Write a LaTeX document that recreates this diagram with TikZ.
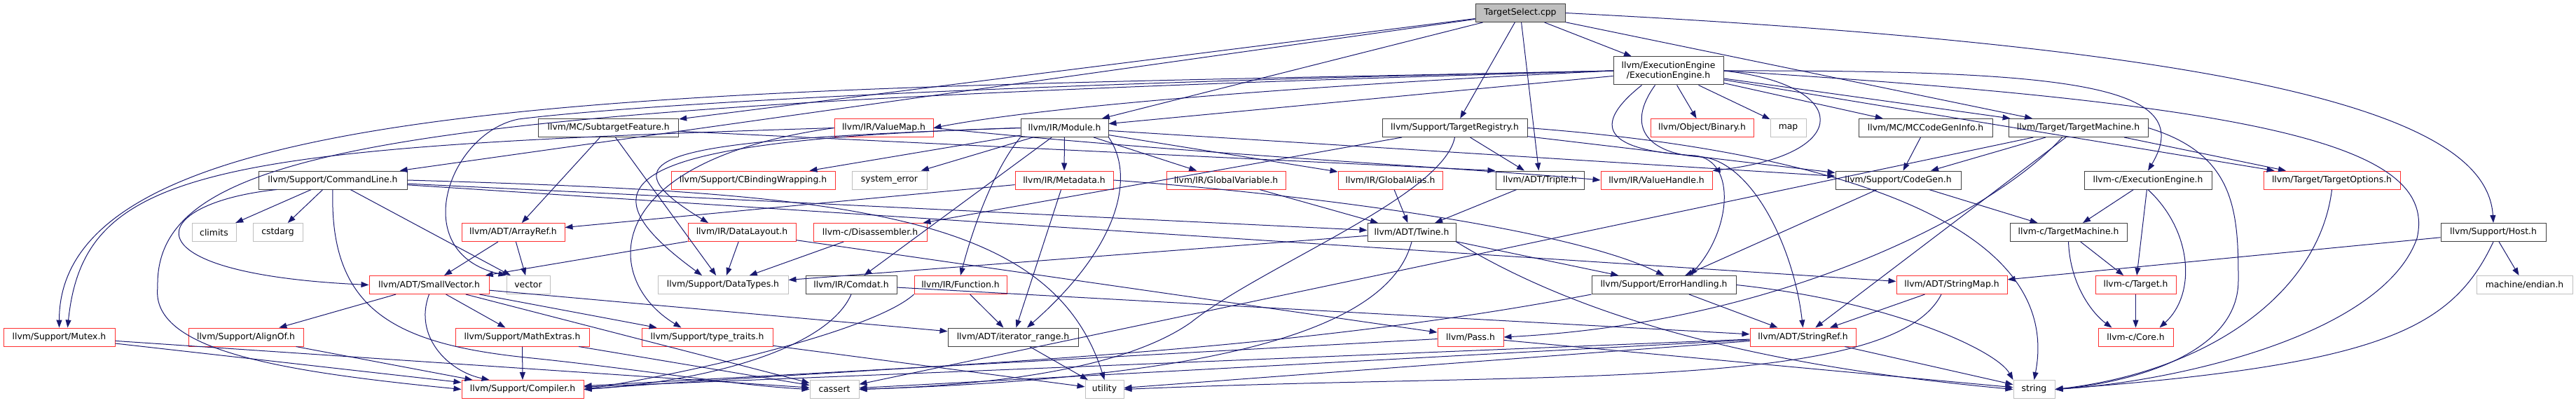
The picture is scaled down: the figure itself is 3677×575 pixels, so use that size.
\documentclass[tikz,border=0pt]{standalone}
\usepackage{fontspec}
\setmainfont{DejaVu Sans}
\usepackage{xcolor}
\usepackage{tikz}
\usetikzlibrary{arrows.meta}
\definecolor{depblue}{HTML}{191970}
\definecolor{truncred}{HTML}{FF3030}
\definecolor{sysgray}{HTML}{BFBFBF}
\definecolor{hdrgray}{HTML}{404040}

\begin{document}
\begin{tikzpicture}[x=1pt,y=-1pt,>={Triangle[length=11pt,width=8pt]}]
  \tikzstyle{hdr}=[draw=hdrgray,line width=1pt,fill=white,minimum height=26pt,inner sep=0pt,align=center,font=\fontsize{12.4}{14.5}\selectfont]
  \tikzstyle{trunc}=[hdr,draw=truncred]
  \tikzstyle{sys}=[hdr,draw=sysgray]
  \tikzstyle{dep}=[->,draw=depblue,line width=1pt]
  \useasboundingbox (0,0) rectangle (3677,575);
  \node[hdr,fill=sysgray,minimum width=128pt] (ts) at (2170,18.5) {TargetSelect.cpp};
  \node[hdr,minimum width=157pt,minimum height=40pt] (ee) at (2381.5,101) {llvm/ExecutionEngine\\/ExecutionEngine.h};
  \node[hdr,minimum width=200pt] (subtarget) at (868.7,182.5) {llvm/MC/SubtargetFeature.h};
  \node[trunc,minimum width=141pt] (valuemap) at (1261.5,182.5) {llvm/IR/ValueMap.h};
  \node[hdr,minimum width=125pt] (module) at (1519.5,182.5) {llvm/IR/Module.h};
  \node[hdr,minimum width=207pt] (treg) at (2076.5,182.5) {llvm/Support/TargetRegistry.h};
  \node[trunc,minimum width=147pt] (binary) at (2429.5,182.5) {llvm/Object/Binary.h};
  \node[sys,minimum width=51pt] (map) at (2552.5,182.5) {map};
  \node[hdr,minimum width=191pt] (mccgi) at (2748.5,182.5) {llvm/MC/MCCodeGenInfo.h};
  \node[hdr,minimum width=199pt] (tm) at (2966.5,182.5) {llvm/Target/TargetMachine.h};
  \node[hdr,minimum width=212pt] (cmdline) at (475,257) {llvm/Support/CommandLine.h};
  \node[trunc,minimum width=234pt] (cbind) at (1075,257) {llvm/Support/CBindingWrapping.h};
  \node[sys,minimum width=107pt] (syserr) at (1269.5,257) {system\_error};
  \node[trunc,minimum width=140pt] (metadata) at (1519,257) {llvm/IR/Metadata.h};
  \node[trunc,minimum width=170pt] (gvar) at (1750,257) {llvm/IR/GlobalVariable.h};
  \node[trunc,minimum width=149pt] (galias) at (1984.5,257) {llvm/IR/GlobalAlias.h};
  \node[hdr,minimum width=126pt] (triple) at (2198,257) {llvm/ADT/Triple.h};
  \node[trunc,minimum width=159pt] (valuehandle) at (2364.5,257) {llvm/IR/ValueHandle.h};
  \node[hdr,minimum width=179pt] (codegen) at (2709.5,257) {llvm/Support/CodeGen.h};
  \node[hdr,minimum width=182pt] (lee) at (3066,257) {llvm-c/ExecutionEngine.h};
  \node[trunc,minimum width=195pt] (topts) at (3328.5,257) {llvm/Target/TargetOptions.h};
  \node[sys,minimum width=63pt] (climits) at (305.5,331.5) {climits};
  \node[sys,minimum width=71pt] (cstdarg) at (396.5,331.5) {cstdarg};
  \node[trunc,minimum width=147pt] (arrayref) at (732.5,331.5) {llvm/ADT/ArrayRef.h};
  \node[trunc,minimum width=154pt] (datalayout) at (1059,331.5) {llvm/IR/DataLayout.h};
  \node[trunc,minimum width=162pt] (disasm) at (1242,331.5) {llvm-c/Disassembler.h};
  \node[hdr,minimum width=126pt] (twine) at (2015,331.5) {llvm/ADT/Twine.h};
  \node[hdr,minimum width=167pt] (ltm) at (2952.5,331.5) {llvm-c/TargetMachine.h};
  \node[hdr,minimum width=150pt] (host) at (3559,331.5) {llvm/Support/Host.h};
  \node[trunc,minimum width=171pt] (smallvec) at (612.5,406.5) {llvm/ADT/SmallVector.h};
  \node[sys,minimum width=62pt] (vector) at (754,406.5) {vector};
  \node[sys,minimum width=186pt] (datatypes) at (1032,406.5) {llvm/Support/DataTypes.h};
  \node[hdr,minimum width=130pt] (comdat) at (1215,406.5) {llvm/IR/Comdat.h};
  \node[trunc,minimum width=132pt] (function) at (1371,406.5) {llvm/IR/Function.h};
  \node[hdr,minimum width=206pt] (errh) at (2375,406.5) {llvm/Support/ErrorHandling.h};
  \node[trunc,minimum width=158pt] (stringmap) at (2786,406.5) {llvm/ADT/StringMap.h};
  \node[trunc,minimum width=115pt] (ltarget) at (3048.5,406.5) {llvm-c/Target.h};
  \node[sys,minimum width=137pt] (endian) at (3603.5,406.5) {machine/endian.h};
  \node[trunc,minimum width=159pt] (mutex) at (84.5,481) {llvm/Support/Mutex.h};
  \node[trunc,minimum width=164pt] (alignof) at (351,481) {llvm/Support/AlignOf.h};
  \node[trunc,minimum width=191pt] (mathext) at (745.5,481) {llvm/Support/MathExtras.h};
  \node[trunc,minimum width=187pt] (typetraits) at (1009.5,481) {llvm/Support/type\_traits.h};
  \node[hdr,minimum width=186pt] (iterrange) at (1446,481) {llvm/ADT/iterator\_range.h};
  \node[trunc,minimum width=94pt] (pass) at (2099,481) {llvm/Pass.h};
  \node[trunc,minimum width=151pt] (stringref) at (2573.5,481) {llvm/ADT/StringRef.h};
  \node[trunc,minimum width=107pt] (lcore) at (3048.5,481) {llvm-c/Core.h};
  \node[trunc,minimum width=174pt] (compiler) at (746,555.5) {llvm/Support/Compiler.h};
  \node[sys,minimum width=70pt] (cassert) at (1191,555.5) {cassert};
  \node[sys,minimum width=55pt] (utility) at (1576.5,555.5) {utility};
  \node[sys,minimum width=59pt] (string) at (2903.5,555.5) {string};
  \foreach \a/\b in {ts/ee,ts/tm,ts/treg,ts/triple,ts/module,ts/subtarget,ts/cmdline,%
    ee/module,ee/binary,ee/map,ee/mccgi,ee/tm,ee/topts,%
    subtarget/arrayref,subtarget/datatypes,%
    module/cbind,module/syserr,module/metadata,module/gvar,module/galias,module/comdat,module/codegen,%
    treg/disasm,treg/triple,treg/codegen,%
    tm/codegen,tm/topts,tm/stringref,tm/cassert,mccgi/codegen,%
    cmdline/climits,cmdline/cstdarg,cmdline/vector,cmdline/twine,cmdline/stringmap,%
    metadata/arrayref,metadata/iterrange,gvar/twine,galias/twine,triple/twine,%
    codegen/errh,codegen/ltm,lee/ltm,lee/ltarget,ltm/ltarget,ltarget/lcore,%
    arrayref/smallvec,arrayref/vector,datalayout/datatypes,datalayout/smallvec,datalayout/pass,%
    disasm/datatypes,twine/datatypes,twine/errh,host/stringmap,host/endian,%
    smallvec/alignof,smallvec/mathext,smallvec/typetraits,smallvec/cassert,smallvec/iterrange,%
    comdat/stringref,function/iterrange,errh/stringref,stringmap/stringref,%
    mutex/compiler,mutex/cassert,alignof/compiler,mathext/compiler,mathext/cassert,%
    typetraits/utility,iterrange/utility,pass/compiler,pass/string,%
    stringref/compiler,stringref/cassert,stringref/string,stringref/utility}
    \draw[dep] (\a) -- (\b);
  \draw[dep] (subtarget) -- (triple.north west);
  \draw[dep] (ts.east) .. controls (3250,70) and (3550,170) .. (host.north);
  \draw[dep] (ee.west) .. controls (1900,120) and (1500,150) .. (valuemap.east);
  \draw[dep] (ee.west) .. controls (1000,130) and (85,120) .. (mutex.north);
  \draw[dep] (ee.west) .. controls (600,150) and (220,200) .. (225,410) .. controls (215,500) and (400,530) .. (compiler.west);
  \draw[dep] (ee.west) .. controls (1400,120) and (900,150) .. (740,170) .. controls (640,190) and (580,360) .. (vector.north west);
  \draw[dep] (ee.east) .. controls (2950,100) and (3140,120) .. (lee.north);
  \draw[dep] (ee.east) .. controls (2640,120) and (2650,220) .. (valuehandle.north east);
  \draw[dep] ([xshift=-38pt]ee.south) .. controls (2270,180) and (2290,215) .. (2420,222) .. controls (2480,230) and (2470,330) .. ([xshift=37pt]errh.north);
  \draw[dep] ([xshift=-19pt]ee.south) .. controls (2320,180) and (2350,220) .. (2430,224) .. controls (2500,232) and (2560,350) .. (stringref.north);
  \draw[dep] (ee.east) .. controls (3250,150) and (3480,210) .. (3450,340) .. controls (3400,480) and (3100,545) .. (string.east);
  \draw[dep] (tm.east) .. controls (3190,220) and (3195,300) .. (3195,400) .. controls (3195,520) and (3000,550) .. (string.east);
  \draw[dep] (topts.south) .. controls (3310,420) and (3150,530) .. (string.east);
  \draw[dep] (host.south) .. controls (3500,470) and (3400,520) .. (string.east);
  \draw[dep] (treg.east) .. controls (2550,210) and (2950,300) .. (string.north);
  \draw[dep] ([xshift=-23pt]tm.south) .. controls (2850,300) and (2550,460) .. (pass.east);
  \draw[dep] ([xshift=-80pt]cmdline.south) .. controls (210,290) and (170,390) .. (smallvec.west);
  \draw[dep] (cmdline.south) .. controls (470,440) and (560,490) .. (750,510) .. controls (900,525) and (1050,550) .. (cassert.west);
  \draw[dep] (cmdline.east) .. controls (1200,275) and (1500,300) .. (utility.north);
  \draw[dep] (treg.south) .. controls (2060,280) and (1800,380) .. (1700,460) .. controls (1600,530) and (1400,550) .. (cassert.east);
  \draw[dep] (twine.south) .. controls (1980,480) and (1700,540) .. (cassert.east);
  \draw[dep] (twine.south east) .. controls (2300,480) and (2600,530) .. (string.west);
  \draw[dep] (metadata.east) .. controls (1900,280) and (2250,330) .. (errh.north);
  \draw[dep] (valuemap.west) .. controls (300,210) and (120,240) .. ([xshift=12pt]mutex.north);
  \draw[dep] (valuemap.west) .. controls (850,230) and (860,400) .. ([xshift=-37pt]typetraits.north);
  \draw[dep] (valuemap.east) .. controls (1700,220) and (2100,240) .. (valuehandle.west);
  \draw[dep] (module.west) .. controls (950,200) and (850,220) .. ([xshift=-48pt]datalayout.north);
  \draw[dep] (module.west) .. controls (880,200) and (820,260) .. ([xshift=-30pt]datatypes.north);
  \draw[dep] (module.south west) .. controls (1420,240) and (1390,320) .. (function.north);
  \draw[dep] (module.south east) .. controls (1620,250) and (1600,350) .. ([xshift=20pt]iterrange.north);
  \draw[dep] (smallvec.south) .. controls (590,480) and (640,530) .. ([xshift=40pt]compiler.north west);
  \draw[dep] (comdat.south) .. controls (1180,500) and (1000,545) .. (compiler.east);
  \draw[dep] (function.south west) .. controls (1250,470) and (1000,530) .. (compiler.east);
  \draw[dep] (errh.south west) .. controls (1800,510) and (1300,520) .. (compiler.east);
  \draw[dep] (errh.east) .. controls (2700,430) and (2850,500) .. (string.north west);
  \draw[dep] ([xshift=-15pt]stringmap.south) .. controls (2700,560) and (2200,530) .. (utility.east);
  \draw[dep] (lee.south) .. controls (3130,330) and (3135,420) .. ([xshift=-20pt]lcore.north east);
  \draw[dep] (ltm.south) .. controls (2955,410) and (2990,450) .. ([xshift=20pt]lcore.north west);
\end{tikzpicture}
\end{document}
